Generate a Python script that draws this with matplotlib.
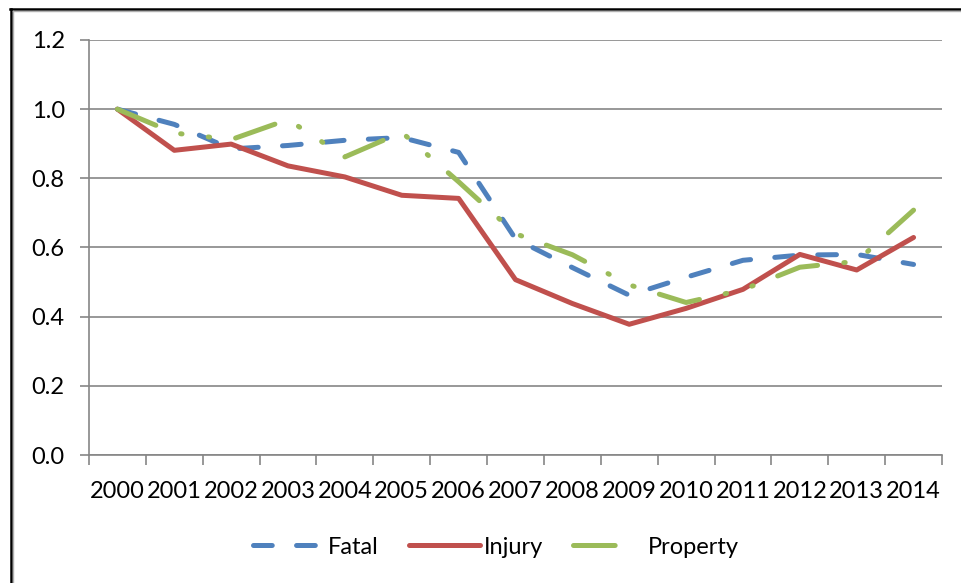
import matplotlib
matplotlib.use("Agg")
import matplotlib.pyplot as plt
from matplotlib.lines import Line2D

plt.rcParams['font.family'] = ['Lato', 'DejaVu Sans']
plt.rcParams['lines.scale_dashes'] = False

years = ["2000", "2001", "2002", "2003", "2004", "2005", "2006", "2007",
         "2008", "2009", "2010", "2011", "2012", "2013", "2014"]
fatal = [1.0, 0.956, 0.885, 0.895, 0.91, 0.918, 0.875, 0.625,
         0.542, 0.462, 0.514, 0.563, 0.578, 0.58, 0.551]
injury = [1.0, 0.881, 0.899, 0.836, 0.804, 0.751, 0.742, 0.507,
          0.438, 0.378, 0.424, 0.479, 0.58, 0.535, 0.629]
prop = [1.0, 0.931, 0.912, 0.97, 0.862, 0.933, 0.79, 0.64,
        0.579, 0.492, 0.441, 0.478, 0.543, 0.56, 0.708]

grey = "#868686"
blue, red, green = "#4F81BD", "#C0504D", "#9BBB59"
fdash = (13.5, 17.5)
pdash = (30, 19, 1, 19, 1, 19)

fig = plt.figure(figsize=(9.61, 5.83), dpi=100)
ax = fig.add_axes([89/961, 1 - 455/583, (942 - 89)/961, (455 - 40)/583])

x = range(len(years))
ax.plot(x, fatal, color=blue, lw=3.6, dashes=fdash,
        dash_capstyle="round", dash_joinstyle="round")
ax.plot(x, injury, color=red, lw=3.6, solid_capstyle="round",
        solid_joinstyle="round")
ax.plot(x, prop, color=green, lw=3.6, dashes=pdash,
        dash_capstyle="round", dash_joinstyle="round")

ax.set_xlim(-0.5, len(years) - 0.5)
ax.set_ylim(0, 1.2)
ax.set_yticks([0, 0.2, 0.4, 0.6, 0.8, 1.0, 1.2])
ax.set_yticklabels(["%.1f" % v for v in ax.get_yticks()])
ax.set_xticks([i - 0.5 for i in range(len(years) + 1)])
ax.set_xticklabels([])
ax.set_xticks(list(x), minor=True)
ax.set_xticklabels(years, minor=True)

ax.grid(axis="y", color=grey, lw=1.2)
ax.set_axisbelow(True)
for s in ["top", "right"]:
    ax.spines[s].set_visible(False)
for s in ["left", "bottom"]:
    ax.spines[s].set_color(grey)
    ax.spines[s].set_linewidth(1.2)

ax.tick_params(axis="y", which="major", length=6.5, width=1.2, color=grey,
               labelsize=17, pad=11)
ax.tick_params(axis="x", which="major", length=7, width=1.2, color=grey)
ax.tick_params(axis="x", which="minor", length=0, labelsize=17, pad=19)

# legend proxies (same look as the Excel legend keys)
handles = [
    Line2D([], [], color=blue, lw=3.6, dashes=fdash, dash_capstyle="round"),
    Line2D([], [], color=red, lw=3.6, solid_capstyle="round"),
    Line2D([], [], color=green, lw=3.6, dashes=(30, 40), dash_capstyle="round"),
]
ax.legend(handles, ["Fatal", "Injury", "Property"], loc="center",
          bbox_to_anchor=(496/961, 36/583), bbox_transform=fig.transFigure,
          ncol=3, frameon=False, fontsize=17, handlelength=3.0,
          handletextpad=0.15, columnspacing=1.3)

# outer frame of the pasted chart
fig.add_artist(Line2D([10/961, 1], [1 - 9/583, 1 - 9/583], color="black", lw=1.8))
fig.add_artist(Line2D([11/961, 11/961], [0, 1 - 9/583], color="black", lw=1.8))
fig.add_artist(Line2D([13/961, 1], [1 - 11/583, 1 - 11/583], color="#b0b0b0", lw=1))
fig.add_artist(Line2D([13/961, 13/961], [0, 1 - 11/583], color="#b0b0b0", lw=1))

fig.savefig("out.png", dpi=100)
